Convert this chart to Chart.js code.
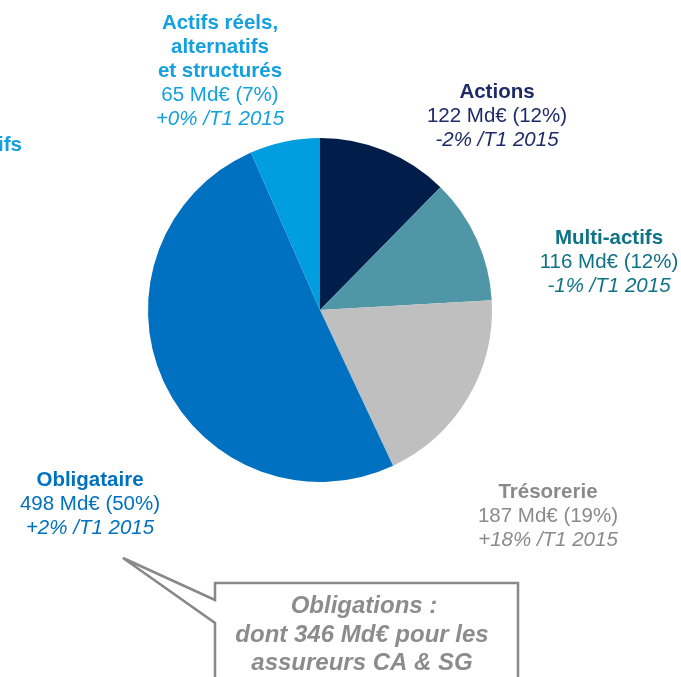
<!DOCTYPE html>
<html>
<head>
<meta charset="utf-8">
<script src="https://cdn.jsdelivr.net/npm/chart.js@4"></script>
<style>
  html, body { margin: 0; padding: 0; background: #fff; }
  #chart { display: block; }
</style>
</head>
<body>
<canvas id="chart" width="681" height="677"></canvas>
<script>
// encours par classe d'actifs (Md€), sens horaire depuis midi
let labels = ["Actions", "Multi-actifs", "Trésorerie", "Obligataire", "Actifs réels,\nalternatifs\net structurés"]
let values = [122, 116, 187, 498, 65]
let shares = [12, 12, 19, 50, 7]
let variations = ["-2%", "-1%", "+18%", "+2%", "+0%"]
let period = "/T1 2015"

let sliceColors = ["#011E4B", "#4F96A7", "#BFBFBF", "#0070C0", "#009DDF"]
let textColors = ["#1F2A68", "#0F7285", "#8A8A8A", "#0070C0", "#14A0E0"]
// centre x, y de la première ligne de chaque étiquette
let labelPos = [[497, 92], [609, 238], [548, 492], [90, 480], [220, 23]]

const FONT = '"Liberation Sans", Arial, sans-serif'
const LINE = 24

const labelsPlugin = {
    id: 'labels',
    afterDraw(chart) {
        const ctx = chart.ctx
        ctx.save()
        ctx.textAlign = 'center'
        ctx.textBaseline = 'middle'
        labels.forEach(function (lab, i) {
            let [x, y] = labelPos[i]
            ctx.fillStyle = textColors[i]
            ctx.font = `bold 20.5px ${FONT}`
            lab.split('\n').forEach(function (line) {
                ctx.fillText(line, x, y)
                y += LINE
            })
            ctx.font = `20.5px ${FONT}`
            ctx.fillText(`${values[i]} Md€ (${shares[i]}%)`, x, y)
            y += LINE
            ctx.font = `italic 20.5px ${FONT}`
            ctx.fillText(`${variations[i]} ${period}`, x, y)
        })

        // étiquette coupée au bord gauche
        ctx.textAlign = 'right'
        ctx.font = `bold 20.5px ${FONT}`
        ctx.fillStyle = "#14A0E0"
        ctx.fillText("Multi-actifs", 22, 145)

        // bulle de commentaire
        ctx.fillStyle = '#fff'
        ctx.strokeStyle = '#888888'
        ctx.lineWidth = 2.5
        ctx.beginPath()
        ctx.moveTo(215, 600)
        ctx.lineTo(215, 583)
        ctx.lineTo(518, 583)
        ctx.lineTo(518, 690)
        ctx.lineTo(215, 690)
        ctx.lineTo(215, 623)
        ctx.lineTo(123, 558)
        ctx.closePath()
        ctx.fill()
        ctx.stroke()

        ctx.textAlign = 'center'
        ctx.fillStyle = '#8C8C8C'
        ctx.font = `italic bold 24px ${FONT}`
        ctx.fillText("Obligations :", 364, 606)
        ctx.fillText("dont 346 Md€ pour les", 362, 635)
        ctx.fillText("assureurs CA & SG", 362, 663)
        ctx.restore()
    }
}

new Chart("chart", {
    type: "pie",
    data: {
        labels: labels,
        datasets: [{
            data: values,
            backgroundColor: sliceColors,
            borderWidth: 0
        }]
    },
    options: {
        responsive: false,
        animation: false,
        layout: {
            padding: {left: 148, right: 189, top: 138, bottom: 195}
        },
        plugins: {
            legend: {display: false},
            tooltip: {enabled: false}
        }
    },
    plugins: [labelsPlugin]
});
</script>
</body>
</html>
